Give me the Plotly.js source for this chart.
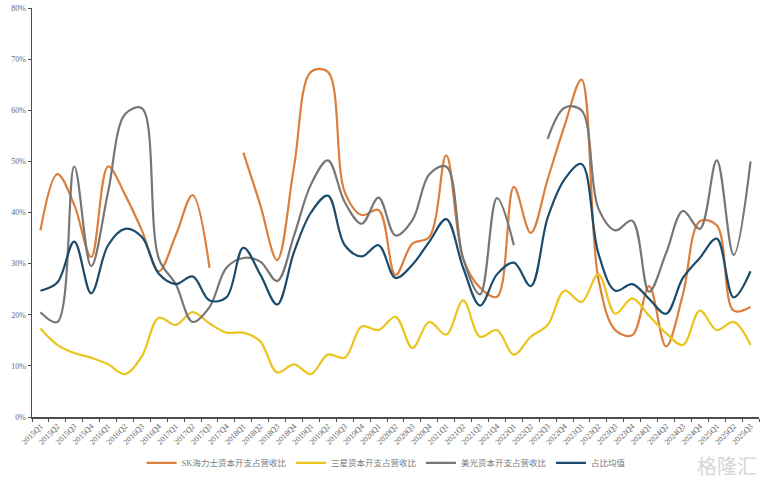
<!DOCTYPE html>
<html>
<head>
<meta charset="utf-8">
<script src="https://cdn.plot.ly/plotly-3.0.1.min.js"></script>
<style>
html,body{margin:0;padding:0;background:#fff;}
#chart{width:764px;height:482px;}
</style>
</head>
<body>
<div id="chart"></div>
<script>
const quarters = [
  "2015Q1","2015Q2","2015Q3","2015Q4","2016Q1","2016Q2","2016Q3","2016Q4",
  "2017Q1","2017Q2","2017Q3","2017Q4","2018Q1","2018Q2","2018Q3","2018Q4",
  "2019Q1","2019Q2","2019Q3","2019Q4","2020Q1","2020Q2","2020Q3","2020Q4",
  "2021Q1","2021Q2","2021Q3","2021Q4","2022Q1","2022Q2","2022Q3","2022Q4",
  "2023Q1","2023Q2","2023Q3","2023Q4","2024Q1","2024Q2","2024Q3","2024Q4",
  "2025Q1","2025Q2","2025Q3"
];

const skHynix = [
  36.5,47.5,41.5,31.3,49.0,43.5,36.5,28.5,
  35.5,43.4,29.2,null,51.7,41.5,30.7,49.0,
  67.5,67.5,44.0,39.5,40.5,27.8,33.9,35.2,
  51.2,31.0,25.3,23.5,45.0,36.0,46.5,57.0,
  66.0,27.0,17.0,16.0,25.6,13.8,24.0,38.3,
  37.5,20.8,21.5
];

const samsung = [
  17.3,14.1,12.5,11.6,10.3,8.4,11.9,19.4,
  18.0,20.5,18.3,16.5,16.5,14.8,8.7,10.3,
  8.4,12.2,11.6,17.7,17.0,19.6,13.5,18.6,
  16.1,22.8,15.7,17.0,12.2,15.7,18.0,24.7,
  22.5,27.9,20.2,23.2,19.8,16.4,14.1,20.8,
  17.0,18.6,14.1
];

const micron = [
  20.5,18.6,49.0,29.5,44.0,59.2,60.4,31.0,
  26.0,18.6,21.5,29.2,31.1,30.4,26.6,35.5,
  45.5,50.2,42.0,37.8,42.9,35.5,38.5,47.5,
  49.0,31.0,24.0,42.8,33.6,null,54.4,60.5,
  60.0,40.8,36.5,38.4,24.5,32.0,40.3,36.8,
  50.2,31.7,50.0
];

const average = [
  24.7,26.3,34.3,24.2,33.6,36.8,35.2,28.0,
  26.0,27.5,22.8,23.4,33.1,27.9,22.0,32.3,
  40.0,43.3,33.6,31.4,33.6,27.2,29.8,34.3,
  38.7,29.2,21.8,27.9,30.2,25.6,39.0,46.5,
  49.5,32.0,24.7,26.0,23.1,20.2,27.2,31.1,
  34.9,23.4,28.5
];

const seriesNames = ["SK海力士资本开支占营收比","三星资本开支占营收比","美光资本开支占营收比","占比均值"];
const seriesColors = ["#DC7F3E","#EAC51F","#767676","#1D4B6C"];
const seriesData = [skHynix, samsung, micron, average];

const pct = arr => arr.map(v => v === null ? null : v / 100);

const traces = seriesData.map((d, k) => ({
  type: "scatter",
  mode: "lines",
  x: quarters,
  y: pct(d),
  name: seriesNames[k],
  connectgaps: false,
  line: {color: seriesColors[k], width: 2.2, shape: "spline", smoothing: 1},
  hoverinfo: "skip"
}));

const tickFont = {family: "Liberation Serif, Noto Sans CJK SC, serif", size: 8, color: "#666666"};

const layout = {
  width: 764,
  height: 482,
  margin: {l: 32, r: 5, t: 8, b: 56.5},
  paper_bgcolor: "#ffffff",
  plot_bgcolor: "#ffffff",
  showlegend: true,
  legend: {
    orientation: "h",
    x: 0.487, xanchor: "center",
    y: -0.112, yanchor: "middle",
    font: {family: "Liberation Serif, Noto Sans CJK SC, serif", size: 8.5, color: "#7a7a7a"},
    itemwidth: 30,
    tracegroupgap: 0
  },
  xaxis: {
    type: "category",
    range: [-0.5, quarters.length - 0.5],
    showgrid: false,
    zeroline: false,
    showline: true,
    linecolor: "#4d4d4d",
    linewidth: 1.5,
    ticks: "outside",
    tickson: "boundaries",
    ticklen: 3,
    tickwidth: 1,
    tickcolor: "#4d4d4d",
    tickangle: -45,
    tickfont: tickFont,
    automargin: false
  },
  yaxis: {
    range: [0, 0.8],
    dtick: 0.1,
    tickformat: ".0%",
    showgrid: false,
    zeroline: false,
    showline: true,
    linecolor: "#4d4d4d",
    linewidth: 1.5,
    ticks: "outside",
    ticklen: 3,
    tickwidth: 1,
    tickcolor: "#4d4d4d",
    tickfont: tickFont,
    automargin: false
  },
  annotations: [{
    xref: "paper", yref: "paper",
    x: 1.0, y: -0.118,
    xanchor: "right", yanchor: "middle",
    text: "格隆汇",
    showarrow: false,
    font: {family: "Noto Sans CJK SC", size: 20, color: "#d6d6d6"}
  }]
};

Plotly.newPlot("chart", traces, layout, {staticPlot: true, displayModeBar: false});
</script>
</body>
</html>
